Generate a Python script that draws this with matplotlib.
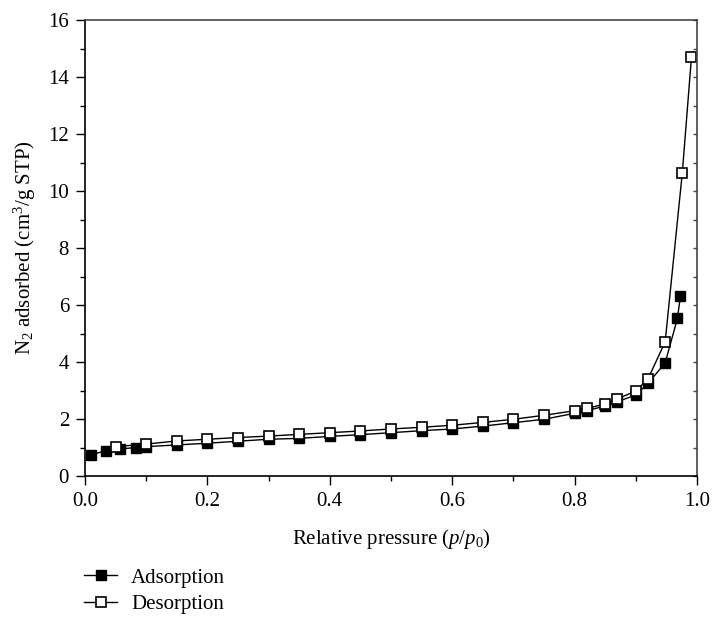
import numpy as np
import matplotlib
matplotlib.use('Agg')
import matplotlib.pyplot as plt
from matplotlib.ticker import MultipleLocator, NullFormatter

plt.rcParams['font.family'] = 'Liberation Serif'
plt.rcParams['mathtext.fontset'] = 'custom'
plt.rcParams['mathtext.rm'] = 'Liberation Serif'
plt.rcParams['mathtext.it'] = 'Liberation Serif:italic'
plt.rcParams['font.size'] = 15

# N2 isotherm data
ads_p = [0.01, 0.034, 0.058, 0.084, 0.10, 0.15, 0.20, 0.25, 0.30, 0.35, 0.40,
         0.45, 0.50, 0.55, 0.60, 0.65, 0.70, 0.75, 0.80, 0.82, 0.85, 0.87,
         0.90, 0.92, 0.948, 0.968, 0.973]
ads_v = [0.74, 0.89, 0.95, 1.00, 1.03, 1.09, 1.15, 1.22, 1.29, 1.32, 1.39,
         1.45, 1.52, 1.59, 1.65, 1.75, 1.87, 1.99, 2.20, 2.29, 2.46, 2.61,
         2.84, 3.25, 3.97, 5.53, 6.33]

des_p = [0.05, 0.10, 0.15, 0.20, 0.25, 0.30, 0.35, 0.40, 0.45, 0.50, 0.55,
         0.60, 0.65, 0.70, 0.75, 0.80, 0.82, 0.85, 0.87, 0.90, 0.92, 0.948,
         0.976, 0.991]
des_v = [1.03, 1.12, 1.23, 1.29, 1.35, 1.40, 1.46, 1.52, 1.58, 1.65, 1.71,
         1.78, 1.88, 1.99, 2.13, 2.29, 2.37, 2.53, 2.71, 2.98, 3.41, 4.71,
         10.64, 14.71]

fig = plt.figure(figsize=[7.12, 6.22], dpi=100)
ax = fig.add_axes([85 / 712, 1 - 476 / 622, 612 / 712, 456 / 622])

ax.plot(ads_p, ads_v, color='black', linewidth=1.0, marker='s', markersize=7.5,
        markerfacecolor='black', markeredgecolor='black', markeredgewidth=1.0,
        label='Adsorption')
ax.plot(des_p, des_v, color='black', linewidth=1.0, marker='s', markersize=7.5,
        markerfacecolor='white', markeredgecolor='black', markeredgewidth=1.2,
        label='Desorption')

ax.set_xlim(0, 1.0)
ax.set_ylim(0, 16)
ax.set_xticks(np.arange(0, 1.01, 0.2))
ax.set_xticklabels(['%.1f' % t for t in np.arange(0, 1.01, 0.2)])
ax.xaxis.set_minor_locator(MultipleLocator(0.1))
ax.yaxis.set_major_locator(MultipleLocator(2))
ax.yaxis.set_minor_locator(MultipleLocator(1))

ax.tick_params(which='major', direction='out', length=6.5, width=1.0,
               labelsize=15, pad=5)
ax.tick_params(which='minor', direction='out', length=3.5, width=1.0)
ax.tick_params(top=False, right=False, which='both')

for side in ['left', 'bottom']:
    ax.spines[side].set_linewidth(1.2)
for side in ['top', 'right']:
    ax.spines[side].set_linewidth(1.2)
    ax.spines[side].set_color('#444444')

# inward ticks on the right spine
sec = ax.secondary_yaxis('right')
sec.yaxis.set_major_locator(MultipleLocator(1))
sec.yaxis.set_major_formatter(NullFormatter())
sec.tick_params(direction='in', length=3, width=1.0, color='#444444')
sec.spines['right'].set_visible(False)

ax.set_xlabel('Relative pressure ($p/p_0$)', fontsize=15)
ax.set_ylabel('N$_2$ adsorbed (cm$^3$/g STP)', fontsize=15)
ax.xaxis.set_label_coords(0.5, (476 - 527) / 456)
ax.yaxis.set_label_coords((38 - 85) / 612, 0.5)

handles, labels = ax.get_legend_handles_labels()
leg = fig.legend(handles, labels, loc='upper left',
                 bbox_to_anchor=(84 / 712, 1 - 568 / 622), frameon=False,
                 fontsize=15, handlelength=1.6, handletextpad=0.65,
                 labelspacing=0.35, markerscale=0.9, borderpad=0,
                 borderaxespad=0)

plt.savefig('out.png', dpi=100)
